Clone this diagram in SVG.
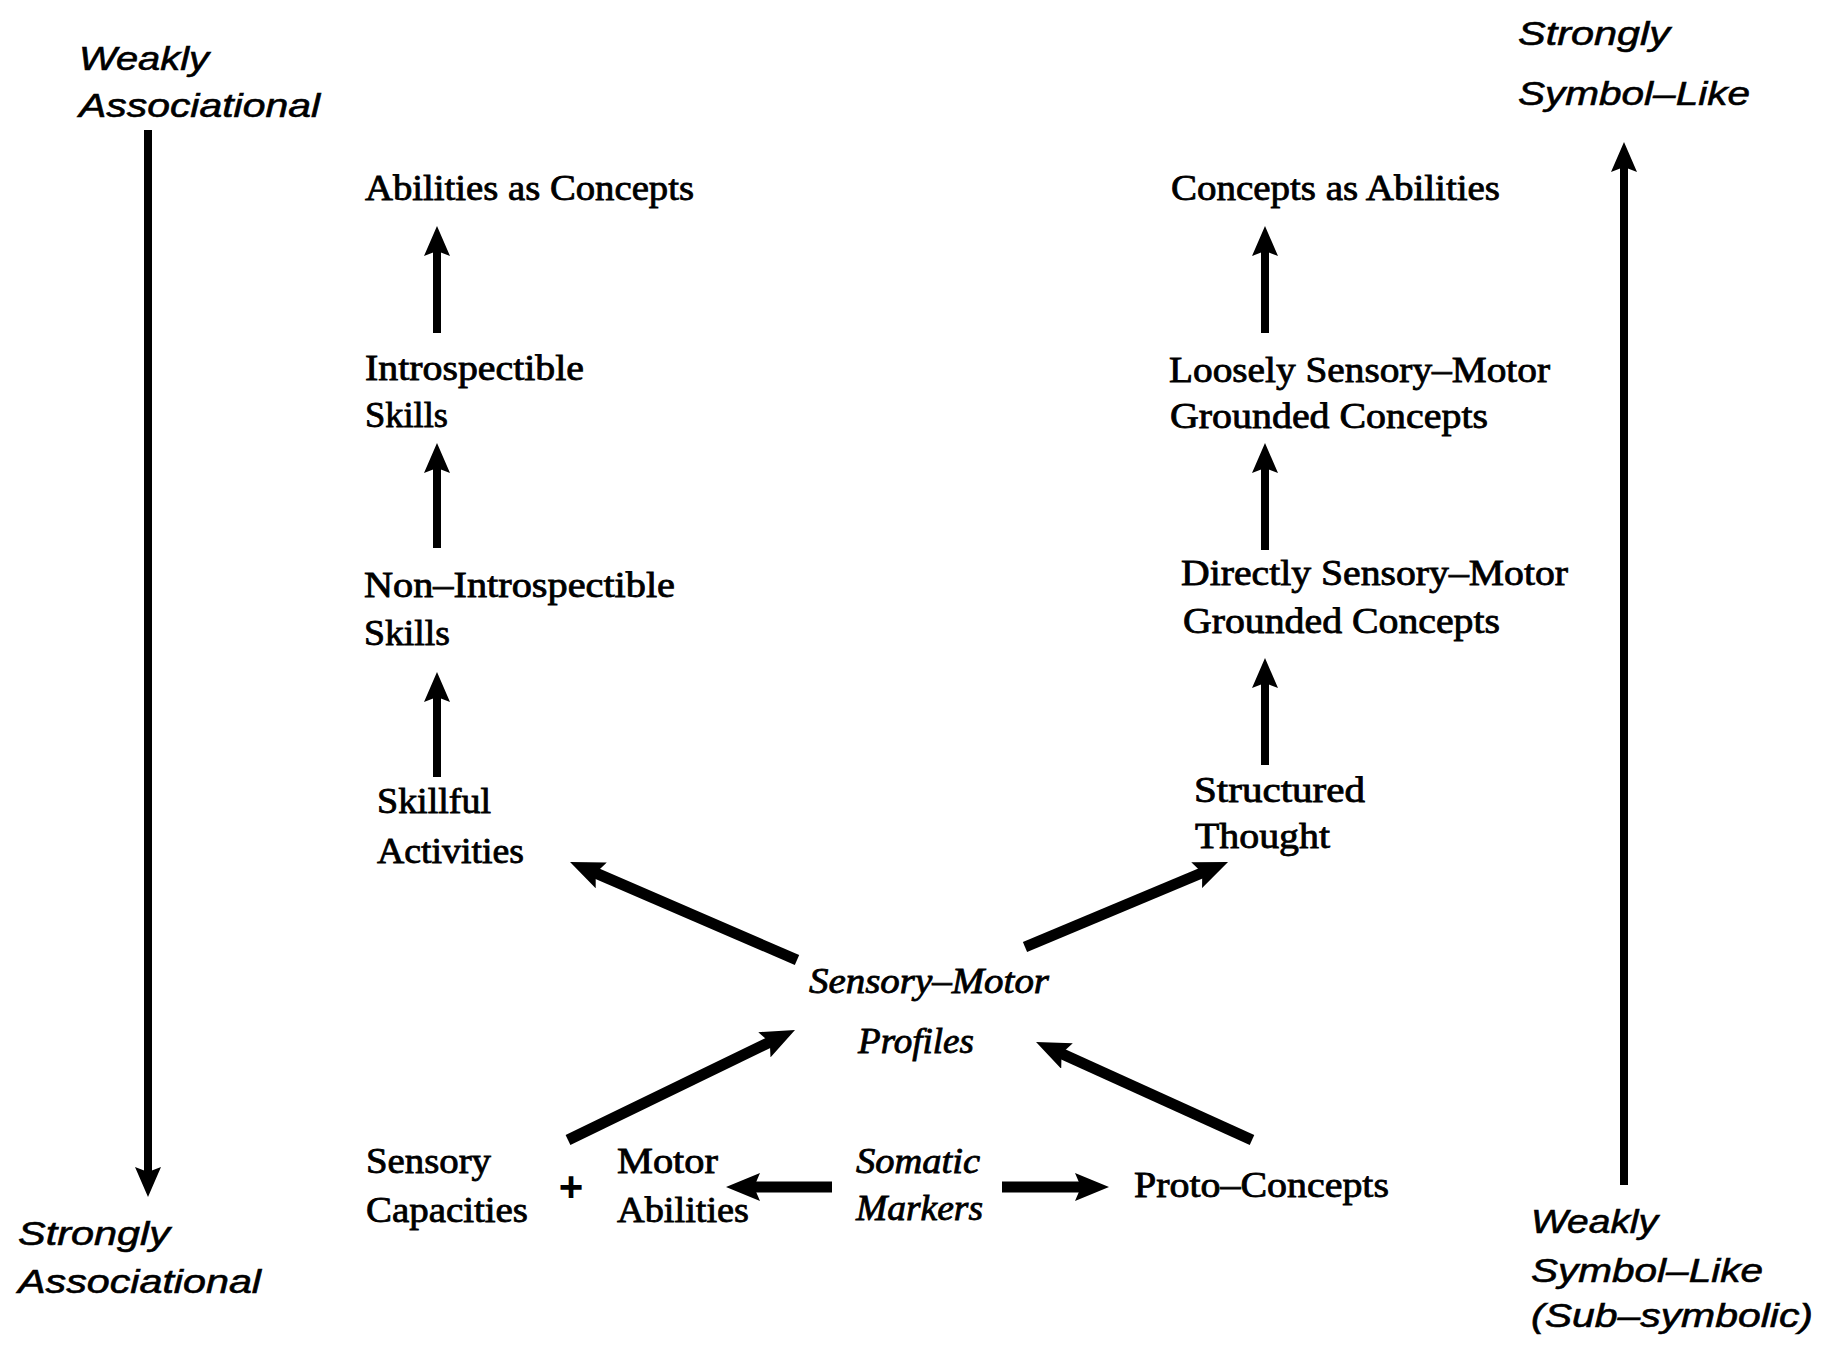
<svg xmlns="http://www.w3.org/2000/svg" width="1821" height="1350" viewBox="0 0 1821 1350">
<style>
.ax{font-family:"Liberation Sans",Arial,sans-serif;font-style:italic;font-size:33px;fill:#000;stroke:#000;stroke-width:0.6}
.sf{font-family:"Liberation Serif","Times New Roman",serif;font-size:35px;fill:#000;stroke:#000;stroke-width:0.8}
.it{font-style:italic}
.ln{stroke:#000;fill:none;stroke-width:8}
.dg{stroke:#000;fill:none;stroke-width:11}
.pl{font-family:"Liberation Sans",Arial,sans-serif;font-weight:bold;font-size:42px;fill:#000}
</style>
<defs>
<marker id="hs" markerUnits="userSpaceOnUse" viewBox="0 0 30 26" markerWidth="30" markerHeight="26" refX="15" refY="13" orient="auto">
<path d="M0,0 L30,13 L0,26 L5,13 z" fill="#000"/>
</marker>
<marker id="hb" markerUnits="userSpaceOnUse" viewBox="0 0 34 28" markerWidth="34" markerHeight="28" refX="19" refY="14" orient="auto">
<path d="M0,0 L34,14 L0,28 L6,14 z" fill="#000"/>
</marker>
</defs>
<rect width="1821" height="1350" fill="#fff"/>
<g id="connectors">
<line class="ln" x1="148" y1="130" x2="148" y2="1182" marker-end="url(#hs)"/>
<line class="ln" x1="1624" y1="1185" x2="1624" y2="157" marker-end="url(#hs)"/>
<line class="ln" x1="437" y1="333" x2="437" y2="241" marker-end="url(#hs)"/>
<line class="ln" x1="437" y1="548" x2="437" y2="458" marker-end="url(#hs)"/>
<line class="ln" x1="437" y1="777" x2="437" y2="687" marker-end="url(#hs)"/>
<line class="ln" x1="1265" y1="333" x2="1265" y2="241" marker-end="url(#hs)"/>
<line class="ln" x1="1265" y1="550" x2="1265" y2="458" marker-end="url(#hs)"/>
<line class="ln" x1="1265" y1="765" x2="1265" y2="673" marker-end="url(#hs)"/>
<line class="dg" x1="797" y1="960" x2="583.8" y2="867.9" marker-end="url(#hb)"/>
<line class="dg" x1="1025" y1="947" x2="1214.2" y2="867.8" marker-end="url(#hb)"/>
<line class="dg" x1="568" y1="1140" x2="781.5" y2="1036.5" marker-end="url(#hb)"/>
<line class="dg" x1="1252" y1="1140" x2="1049.7" y2="1048.2" marker-end="url(#hb)"/>
<line class="dg" x1="832" y1="1187" x2="741" y2="1187" marker-end="url(#hb)"/>
<line class="dg" x1="1002" y1="1187" x2="1094" y2="1187" marker-end="url(#hb)"/>
</g>
<g id="axis-weakly-associational"><text class="ax" x="79" y="70" textLength="130" lengthAdjust="spacingAndGlyphs">Weakly</text><text class="ax" x="79" y="117" textLength="241" lengthAdjust="spacingAndGlyphs">Associational</text></g>
<g id="axis-strongly-associational"><text class="ax" x="18" y="1245" textLength="152" lengthAdjust="spacingAndGlyphs">Strongly</text><text class="ax" x="18" y="1293" textLength="243" lengthAdjust="spacingAndGlyphs">Associational</text></g>
<g id="axis-strongly-symbol"><text class="ax" x="1518" y="45" textLength="152" lengthAdjust="spacingAndGlyphs">Strongly</text><text class="ax" x="1518" y="105" textLength="232" lengthAdjust="spacingAndGlyphs">Symbol–Like</text></g>
<g id="axis-weakly-symbol"><text class="ax" x="1531" y="1233" textLength="127" lengthAdjust="spacingAndGlyphs">Weakly</text><text class="ax" x="1531" y="1282" textLength="232" lengthAdjust="spacingAndGlyphs">Symbol–Like</text><text class="ax" x="1531" y="1327" textLength="282" lengthAdjust="spacingAndGlyphs">(Sub–symbolic)</text></g>
<g id="abilities-as-concepts"><text class="sf" x="365" y="200" textLength="329" lengthAdjust="spacingAndGlyphs">Abilities as Concepts</text></g>
<g id="introspectible-skills"><text class="sf" x="365" y="380" textLength="219" lengthAdjust="spacingAndGlyphs">Introspectible</text><text class="sf" x="365" y="427" textLength="83" lengthAdjust="spacingAndGlyphs">Skills</text></g>
<g id="non-introspectible-skills"><text class="sf" x="364" y="597" textLength="311" lengthAdjust="spacingAndGlyphs">Non–Introspectible</text><text class="sf" x="364" y="645" textLength="86" lengthAdjust="spacingAndGlyphs">Skills</text></g>
<g id="skillful-activities"><text class="sf" x="377" y="813" textLength="114" lengthAdjust="spacingAndGlyphs">Skillful</text><text class="sf" x="377" y="863" textLength="147" lengthAdjust="spacingAndGlyphs">Activities</text></g>
<g id="concepts-as-abilities"><text class="sf" x="1171" y="200" textLength="329" lengthAdjust="spacingAndGlyphs">Concepts as Abilities</text></g>
<g id="loosely-grounded"><text class="sf" x="1169" y="382" textLength="381" lengthAdjust="spacingAndGlyphs">Loosely Sensory–Motor</text><text class="sf" x="1170" y="428" textLength="318" lengthAdjust="spacingAndGlyphs">Grounded Concepts</text></g>
<g id="directly-grounded"><text class="sf" x="1181" y="585" textLength="387" lengthAdjust="spacingAndGlyphs">Directly Sensory–Motor</text><text class="sf" x="1183" y="633" textLength="317" lengthAdjust="spacingAndGlyphs">Grounded Concepts</text></g>
<g id="structured-thought"><text class="sf" x="1194" y="802" textLength="171" lengthAdjust="spacingAndGlyphs">Structured</text><text class="sf" x="1195" y="848" textLength="135" lengthAdjust="spacingAndGlyphs">Thought</text></g>
<g id="sensory-motor-profiles"><text class="sf it" x="809" y="993" textLength="240" lengthAdjust="spacingAndGlyphs">Sensory–Motor</text><text class="sf it" x="858" y="1053" textLength="116" lengthAdjust="spacingAndGlyphs">Profiles</text></g>
<g id="sensory-capacities"><text class="sf" x="366" y="1173" textLength="125" lengthAdjust="spacingAndGlyphs">Sensory</text><text class="sf" x="366" y="1222" textLength="162" lengthAdjust="spacingAndGlyphs">Capacities</text></g>
<g id="plus"><text class="pl" x="571" y="1201" text-anchor="middle">+</text></g>
<g id="motor-abilities"><text class="sf" x="617" y="1173" textLength="101" lengthAdjust="spacingAndGlyphs">Motor</text><text class="sf" x="617" y="1222" textLength="132" lengthAdjust="spacingAndGlyphs">Abilities</text></g>
<g id="somatic-markers"><text class="sf it" x="856" y="1173" textLength="124" lengthAdjust="spacingAndGlyphs">Somatic</text><text class="sf it" x="856" y="1220" textLength="127" lengthAdjust="spacingAndGlyphs">Markers</text></g>
<g id="proto-concepts"><text class="sf" x="1134" y="1197" textLength="255" lengthAdjust="spacingAndGlyphs">Proto–Concepts</text></g>
</svg>
